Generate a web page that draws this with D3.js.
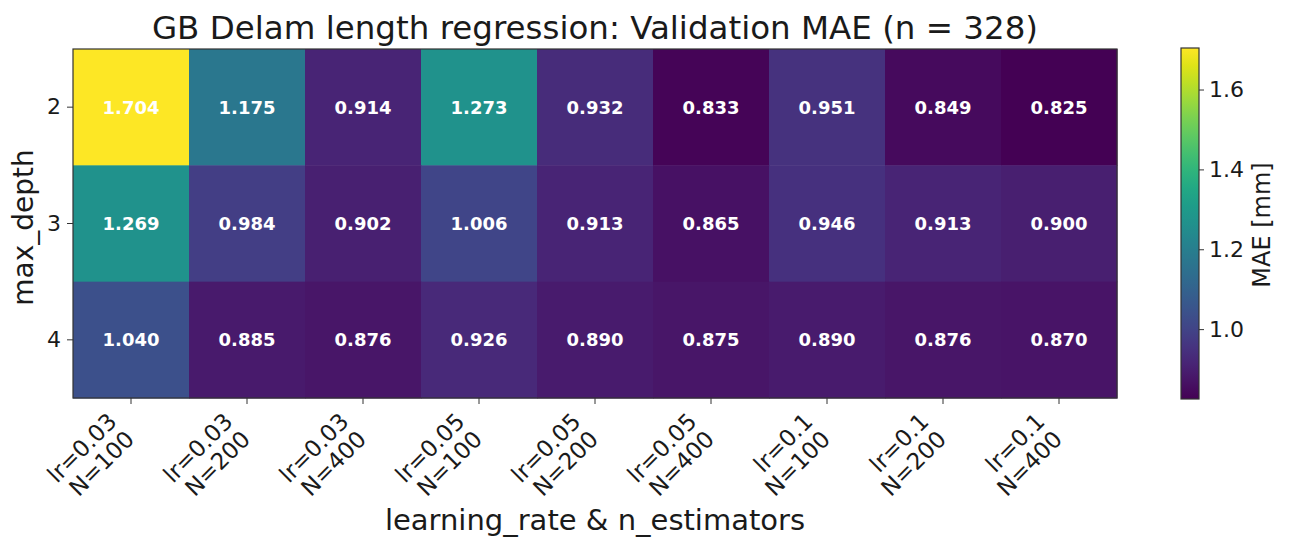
<!DOCTYPE html>
<html>
<head>
<meta charset="utf-8">
<script src="https://cdn.jsdelivr.net/npm/d3@7"></script>
<style>
  html, body { margin: 0; padding: 0; background: #fff; }
  svg { display: block; font-family: "DejaVu Sans", sans-serif; }
</style>
</head>
<body>
<svg id="chart" width="1292" height="540"></svg>
<script>
// Hyperparameter grid: learning rate / number of estimators (columns) by tree depth (rows)
const columnLabels = [
  ["lr=0.03", "N=100"], ["lr=0.03", "N=200"], ["lr=0.03", "N=400"],
  ["lr=0.05", "N=100"], ["lr=0.05", "N=200"], ["lr=0.05", "N=400"],
  ["lr=0.1", "N=100"], ["lr=0.1", "N=200"], ["lr=0.1", "N=400"]
];
const depths = ["2", "3", "4"];

// Validation MAE [mm], one array per max_depth
const maeDepth2 = [1.704, 1.175, 0.914, 1.273, 0.932, 0.833, 0.951, 0.849, 0.825];
const maeDepth3 = [1.269, 0.984, 0.902, 1.006, 0.913, 0.865, 0.946, 0.913, 0.900];
const maeDepth4 = [1.040, 0.885, 0.876, 0.926, 0.890, 0.875, 0.890, 0.876, 0.870];
const maeRows = [maeDepth2, maeDepth3, maeDepth4];

const colorbarTicks = [1.0, 1.2, 1.4, 1.6];

const svg = d3.select("#chart");
const plot = { left: 73, top: 49, right: 1117, bottom: 398 };
const ink = "#1a1a1a";
const tickFont = 22;

const cells = [];
maeRows.forEach((row, r) => row.forEach((v, c) => cells.push({ r, c, v })));

const vmin = d3.min(cells, d => d.v);
const vmax = d3.max(cells, d => d.v);
const color = d3.scaleSequential(d3.interpolateViridis).domain([vmin, vmax]);

const x = d3.scaleBand().domain(d3.range(columnLabels.length)).range([plot.left, plot.right]);
const y = d3.scaleBand().domain(depths).range([plot.top, plot.bottom]);

// Heatmap cells
svg.append("g").selectAll("rect").data(cells).join("rect")
  .attr("x", d => x(d.c))
  .attr("y", d => y(depths[d.r]))
  .attr("width", x.bandwidth() + 0.5)
  .attr("height", y.bandwidth() + 0.5)
  .attr("fill", d => color(d.v));

// Value annotations
svg.append("g").selectAll("text").data(cells).join("text")
  .attr("x", d => x(d.c) + x.bandwidth() / 2)
  .attr("y", d => y(depths[d.r]) + y.bandwidth() / 2)
  .attr("dy", "0.36em")
  .attr("text-anchor", "middle")
  .attr("fill", "#fff")
  .attr("font-weight", "bold")
  .attr("font-size", 18)
  .text(d => d.v.toFixed(3));

// Frame
svg.append("rect")
  .attr("x", plot.left).attr("y", plot.top)
  .attr("width", plot.right - plot.left).attr("height", plot.bottom - plot.top)
  .attr("fill", "none").attr("stroke", "#333").attr("stroke-width", 1.2);

// X axis ticks and rotated two-line labels
const xAxis = svg.append("g").attr("transform", `translate(0,${plot.bottom})`);
xAxis.call(d3.axisBottom(x).tickSize(6).tickFormat(""))
  .call(g => g.select(".domain").remove())
  .call(g => g.selectAll(".tick line").attr("stroke", "#333"));

const xl = svg.append("g").selectAll("g").data(columnLabels).join("g")
  .attr("transform", (d, i) => `translate(${x(i) + x.bandwidth() / 2 - 13},${plot.bottom + 25}) rotate(-45)`);
xl.append("text")
  .attr("text-anchor", "end")
  .attr("font-size", 23)
  .attr("fill", ink)
  .selectAll("tspan").data(d => d).join("tspan")
  .attr("x", 0)
  .attr("dy", (d, i) => i === 0 ? "0em" : "1.08em")
  .text(d => d);

// Y axis
const yAxis = svg.append("g").attr("transform", `translate(${plot.left},0)`);
yAxis.call(d3.axisLeft(y).tickSize(6).tickPadding(6))
  .call(g => g.select(".domain").remove())
  .call(g => g.selectAll(".tick line").attr("stroke", "#333"))
  .call(g => g.selectAll(".tick text").attr("font-size", tickFont).attr("fill", ink)
    .attr("font-family", "DejaVu Sans, sans-serif"));

// Titles
svg.append("text")
  .attr("x", (plot.left + plot.right) / 2).attr("y", 39)
  .attr("text-anchor", "middle").attr("font-size", 32.5).attr("fill", ink)
  .text("GB Delam length regression: Validation MAE (n = 328)");

svg.append("text")
  .attr("x", (plot.left + plot.right) / 2).attr("y", 530)
  .attr("text-anchor", "middle").attr("font-size", 29).attr("fill", ink)
  .text("learning_rate & n_estimators");

svg.append("text")
  .attr("transform", `translate(33,${(plot.top + plot.bottom) / 2 + 4}) rotate(-90)`)
  .attr("text-anchor", "middle").attr("font-size", 28).attr("fill", ink)
  .text("max_depth");

// Colorbar
const cb = { x: 1181, w: 18, top: 48, bottom: 399 };
const cbScale = d3.scaleLinear().domain([vmin, vmax]).range([cb.bottom, cb.top]);
const defs = svg.append("defs");
const grad = defs.append("linearGradient").attr("id", "cbgrad")
  .attr("x1", 0).attr("y1", 1).attr("x2", 0).attr("y2", 0);
d3.range(0, 1.0001, 0.05).forEach(t => {
  grad.append("stop").attr("offset", t).attr("stop-color", d3.interpolateViridis(t));
});
svg.append("rect")
  .attr("x", cb.x).attr("y", cb.top).attr("width", cb.w).attr("height", cb.bottom - cb.top)
  .attr("fill", "url(#cbgrad)").attr("stroke", "#333").attr("stroke-width", 1.2);

const cbAxis = svg.append("g").attr("transform", `translate(${cb.x + cb.w},0)`);
cbAxis.call(d3.axisRight(cbScale).tickValues(colorbarTicks).tickSize(5).tickPadding(5).tickFormat(d3.format(".1f")))
  .call(g => g.select(".domain").remove())
  .call(g => g.selectAll(".tick line").attr("stroke", "#333"))
  .call(g => g.selectAll(".tick text").attr("font-size", tickFont).attr("fill", ink)
    .attr("font-family", "DejaVu Sans, sans-serif"));

svg.append("text")
  .attr("transform", `translate(1270,225) rotate(-90)`)
  .attr("text-anchor", "middle").attr("font-size", 24).attr("fill", ink)
  .text("MAE [mm]");
</script>
</body>
</html>
